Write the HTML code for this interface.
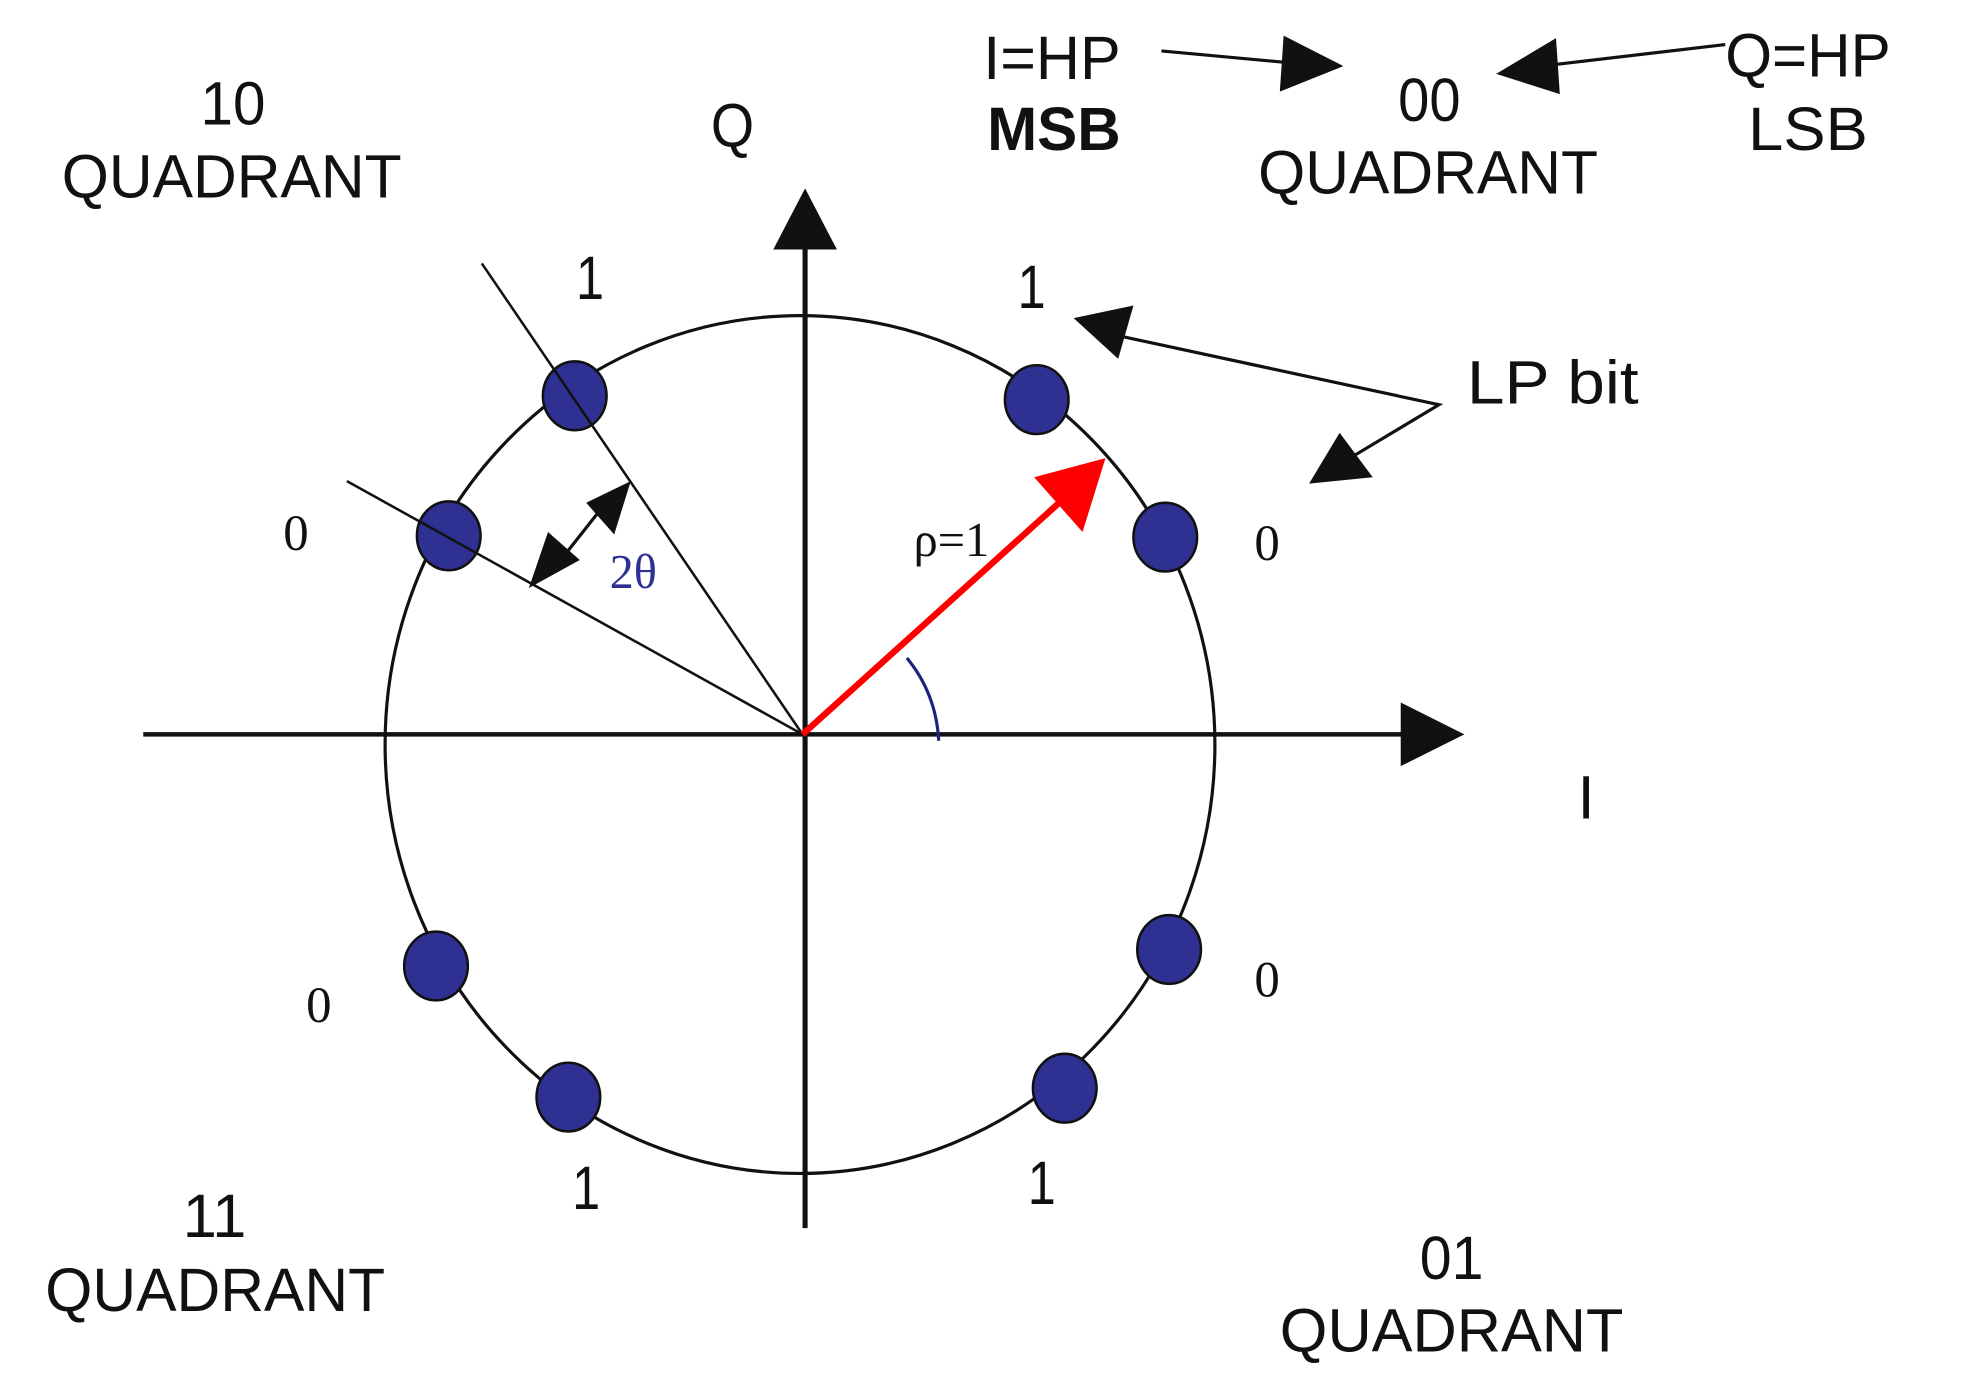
<!DOCTYPE html>
<html><head><meta charset="utf-8"><style>
html,body{margin:0;padding:0;background:#fff;width:1978px;height:1400px;overflow:hidden}
svg{display:block}
text{font-family:"Liberation Sans",sans-serif;fill:#111}
.s{font-family:"Liberation Serif",serif}
</style></head><body>
<svg width="1978" height="1400" viewBox="0 0 1553 1100" xmlns="http://www.w3.org/2000/svg">
<rect width="1553" height="1100" fill="#fff"/>
<ellipse cx="628" cy="585" rx="326" ry="337" fill="none" stroke="#111" stroke-width="2.5"/>
<line x1="112" y1="577" x2="1105" y2="577" stroke="#111" stroke-width="3.5"/>
<polygon points="1100,552 1150,577 1100,602" fill="#111"/>
<line x1="632" y1="965" x2="632" y2="190" stroke="#111" stroke-width="4"/>
<polygon points="607,196 632,148 657,196" fill="#111"/>
<g fill="#2e3192" stroke="#111" stroke-width="2">
<ellipse cx="451" cy="311" rx="25" ry="27"/>
<ellipse cx="352" cy="421" rx="25" ry="27"/>
<ellipse cx="814" cy="314" rx="25" ry="27"/>
<ellipse cx="915" cy="422" rx="25" ry="27"/>
<ellipse cx="342" cy="759" rx="25" ry="27"/>
<ellipse cx="446" cy="862" rx="25" ry="27"/>
<ellipse cx="918" cy="746" rx="25" ry="27"/>
<ellipse cx="836" cy="855" rx="25" ry="27"/>
</g>
<line x1="630" y1="577" x2="378" y2="207" stroke="#111" stroke-width="2"/>
<line x1="630" y1="577" x2="272" y2="378" stroke="#111" stroke-width="2"/>
<line x1="440" y1="440" x2="470" y2="402" stroke="#111" stroke-width="2.5"/>
<polygon points="415,462 430,418 455,440" fill="#111"/>
<polygon points="495,378 460,395 482,420" fill="#111"/>
<line x1="630" y1="577" x2="835" y2="392" stroke="#f00" stroke-width="5"/>
<polygon points="868,360 812,375 850,418" fill="#f00"/>
<path d="M712,517 Q735,545 737,582" fill="none" stroke="#1a237e" stroke-width="2.5"/>
<polyline points="870,262 1130,318 1060,360" fill="none" stroke="#111" stroke-width="2.5"/>
<polygon points="843,250 890,240 878,282" fill="#111"/>
<polygon points="1028,380 1052,340 1078,375" fill="#111"/>
<line x1="912" y1="40" x2="1020" y2="50" stroke="#111" stroke-width="2.5"/>
<polygon points="1055,52 1008,28 1005,72" fill="#111"/>
<line x1="1355" y1="35" x2="1210" y2="52" stroke="#111" stroke-width="2.5"/>
<polygon points="1175,58 1222,30 1225,74" fill="#111"/>
<g font-size="48" lengthAdjust="spacingAndGlyphs">
<text x="157" y="98" textLength="51" lengthAdjust="spacingAndGlyphs">10</text>
<text x="48" y="155" textLength="267" lengthAdjust="spacingAndGlyphs">QUADRANT</text>
<text x="558" y="115" textLength="34" lengthAdjust="spacingAndGlyphs">Q</text>
<text x="772" y="62" textLength="108" lengthAdjust="spacingAndGlyphs">I=HP</text>
<text x="775" y="118" textLength="105" lengthAdjust="spacingAndGlyphs" font-weight="bold">MSB</text>
<text x="1098" y="95" textLength="49" lengthAdjust="spacingAndGlyphs">00</text>
<text x="988" y="152" textLength="267" lengthAdjust="spacingAndGlyphs">QUADRANT</text>
<text x="1355" y="60" textLength="130" lengthAdjust="spacingAndGlyphs">Q=HP</text>
<text x="1373" y="118" textLength="94" lengthAdjust="spacingAndGlyphs">LSB</text>
<text x="452" y="235" textLength="22" lengthAdjust="spacingAndGlyphs">1</text>
<text x="799" y="242" textLength="22" lengthAdjust="spacingAndGlyphs">1</text>
<text x="1152" y="317" textLength="135" lengthAdjust="spacingAndGlyphs">LP bit</text>
<text x="1239" y="643">I</text>
<text x="143" y="972" textLength="50" lengthAdjust="spacingAndGlyphs">11</text>
<text x="35" y="1030" textLength="267" lengthAdjust="spacingAndGlyphs">QUADRANT</text>
<text x="1115" y="1005" textLength="50" lengthAdjust="spacingAndGlyphs">01</text>
<text x="1005" y="1062" textLength="270" lengthAdjust="spacingAndGlyphs">QUADRANT</text>
<text x="449" y="950" textLength="22" lengthAdjust="spacingAndGlyphs">1</text>
<text x="807" y="946" textLength="22" lengthAdjust="spacingAndGlyphs">1</text>
</g>
<g font-size="40" text-anchor="middle">
<text x="232" y="432" class="s">0</text>
<text x="995" y="440" class="s">0</text>
<text x="250" y="803" class="s">0</text>
<text x="995" y="783" class="s">0</text>
<text x="747" y="437" class="s" font-size="38">ρ=1</text>
<text x="497" y="462" class="s" font-size="38" style="fill:#2e3192">2θ</text>
</g>
</svg>
</body></html>
